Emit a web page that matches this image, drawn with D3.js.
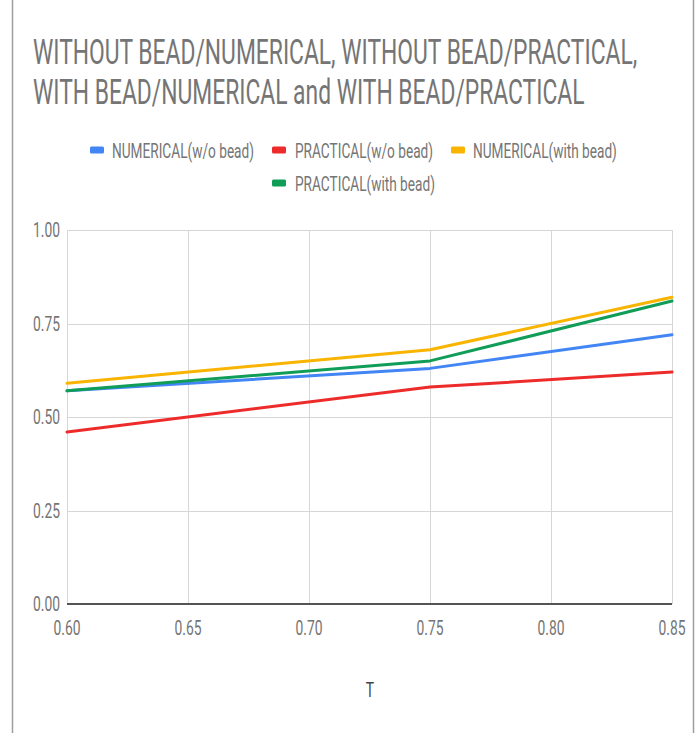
<!DOCTYPE html>
<html>
<head>
<meta charset="utf-8">
<script src="https://cdn.jsdelivr.net/npm/d3@7"></script>
<style>
  html, body { margin: 0; padding: 0; background: #fff; }
  svg { display: block; }
  text { font-family: Roboto, "Noto Sans", Arial, sans-serif; }
</style>
</head>
<body>
<svg id="chart" width="700" height="733"></svg>
<script>
// ---- data ----
const titleLines = ["WITHOUT BEAD/NUMERICAL, WITHOUT BEAD/PRACTICAL,", "WITH BEAD/NUMERICAL and WITH BEAD/PRACTICAL"];
const xValues = [0.60, 0.75, 0.85];
const numericalWithoutBead = [0.57, 0.63, 0.72];
const practicalWithoutBead = [0.46, 0.58, 0.62];
const numericalWithBead = [0.59, 0.68, 0.82];
const practicalWithBead = [0.57, 0.65, 0.81];
const seriesNames = ["NUMERICAL(w/o bead)", "PRACTICAL(w/o bead)", "NUMERICAL(with bead)", "PRACTICAL(with bead)"];
const xTicks = [0.60, 0.65, 0.70, 0.75, 0.80, 0.85];
const yTicks = [0.00, 0.25, 0.50, 0.75, 1.00];
const xAxisTitle = "T";

const colors = ["#4285F4", "#EE2B2B", "#F9B400", "#0F9D58"];
const series = [numericalWithoutBead, practicalWithoutBead, numericalWithBead, practicalWithBead]
  .map((vals, i) => ({ name: seriesNames[i], color: colors[i], values: vals.map((v, j) => ({ x: xValues[j], y: v })) }));

const SX = 0.66; // horizontal text compression seen in the reference
const svg = d3.select("#chart");

// frame lines
svg.append("line").attr("x1", 12.5).attr("x2", 12.5).attr("y1", 0).attr("y2", 733).attr("stroke", "#9e9e9e").attr("stroke-width", 1.5);
svg.append("line").attr("x1", 693.5).attr("x2", 693.5).attr("y1", 0).attr("y2", 733).attr("stroke", "#9e9e9e").attr("stroke-width", 1.5);

function sText(x, y, str, size, anchor, fill) {
  return svg.append("text")
    .attr("transform", `translate(${x},${y}) scale(${SX},1)`)
    .attr("font-size", size)
    .attr("text-anchor", anchor || "start")
    .attr("fill", fill || "#757575")
    .text(str);
}

// title
titleLines.forEach((t, i) => sText(33, 64 + i * 40, t, 34.6, "start", "#757575"));

// scales
const x = d3.scaleLinear().domain([0.60, 0.85]).range([67, 672]);
const y = d3.scaleLinear().domain([0, 1]).range([604, 230]);

// gridlines
const g = svg.append("g");
g.selectAll(".vg").data(xTicks).join("line")
  .attr("x1", d => Math.round(x(d)) + 0.5).attr("x2", d => Math.round(x(d)) + 0.5)
  .attr("y1", y(1)).attr("y2", y(0))
  .attr("stroke", "#d6d6d6").attr("stroke-width", 1);
g.selectAll(".hg").data(yTicks.filter(d => d > 0)).join("line")
  .attr("x1", x(0.60)).attr("x2", x(0.85))
  .attr("y1", d => Math.round(y(d)) + 0.5).attr("y2", d => Math.round(y(d)) + 0.5)
  .attr("stroke", "#d6d6d6").attr("stroke-width", 1.2);

// y tick labels
yTicks.forEach(d => sText(60, y(d) + 7, d3.format(".2f")(d), 21, "end", "#757575"));
// x tick labels
xTicks.forEach(d => sText(x(d), 635, d3.format(".2f")(d), 21, "middle", "#757575"));
// x axis title
sText(370, 697, xAxisTitle, 21, "middle", "#444");

// lines
const line = d3.line().x(d => x(d.x)).y(d => y(d.y));
svg.append("g").selectAll("path").data(series).join("path")
  .attr("d", d => line(d.values))
  .attr("fill", "none")
  .attr("stroke", d => d.color)
  .attr("stroke-width", 3)
  .attr("stroke-linejoin", "round")
  .attr("stroke-linecap", "round");

// zero baseline
svg.append("line").attr("x1", x(0.60)).attr("x2", x(0.85)).attr("y1", y(0)).attr("y2", y(0))
  .attr("stroke", "#555").attr("stroke-width", 2);

// legend
const legendPos = [
  { sx: 90, tx: 112, cy: 150 },
  { sx: 272, tx: 295, cy: 150 },
  { sx: 451, tx: 473, cy: 150 },
  { sx: 272, tx: 295, cy: 183 }
];
series.forEach((s, i) => {
  const p = legendPos[i];
  svg.append("rect").attr("x", p.sx).attr("y", p.cy - 3.5).attr("width", 14).attr("height", 7)
    .attr("rx", 1.5).attr("fill", s.color);
  sText(p.tx, p.cy + 7.5, s.name, 20.7, "start", "#757575");
});
</script>
</body>
</html>
